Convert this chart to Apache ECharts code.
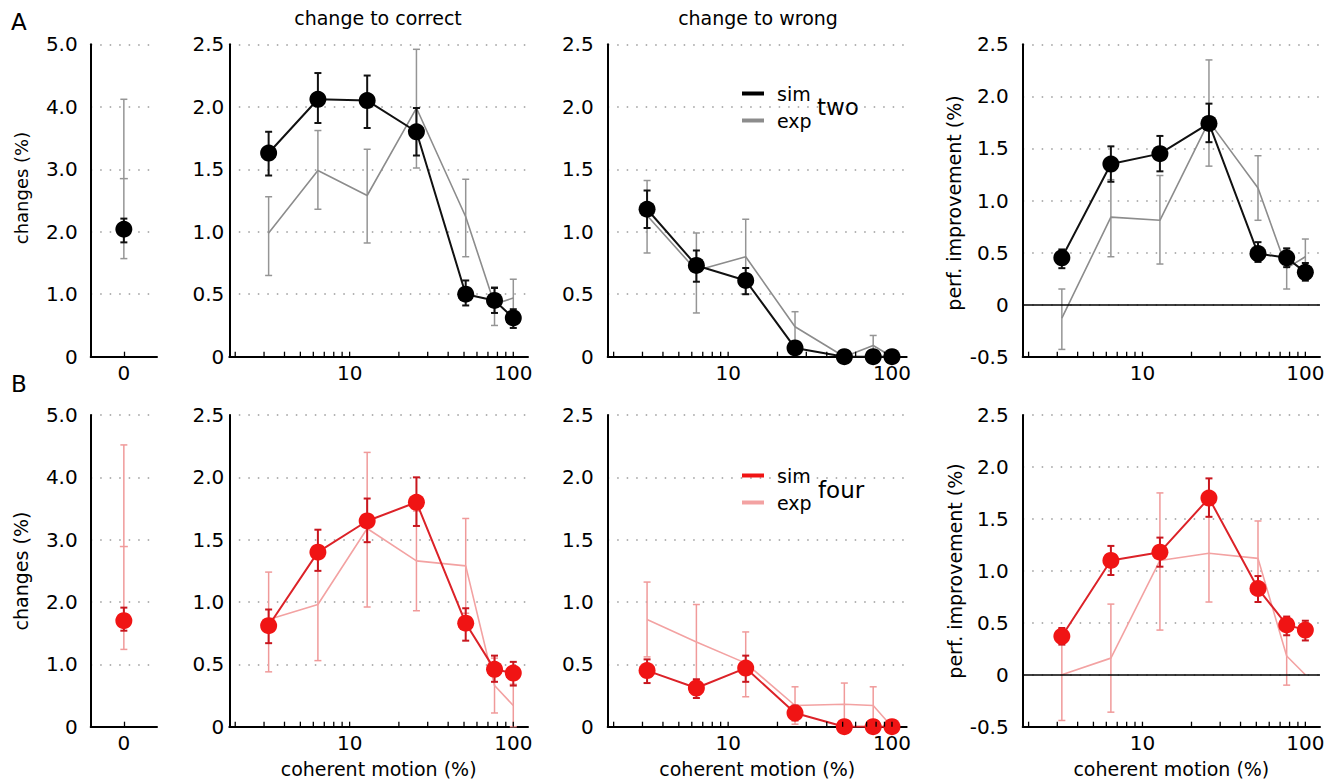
<!DOCTYPE html>
<html><head><meta charset="utf-8">
<script src="https://cdn.jsdelivr.net/npm/echarts@6/dist/echarts.min.js"></script>
<style>html,body{margin:0;padding:0;background:#fff}#c{width:1339px;height:784px}</style>
</head><body><div id="c"></div>
<script>
// ---------- data ----------
const xs = [3.2, 6.4, 12.8, 25.6, 51.2, 76.8, 100];
const baseCat = ['0'];
const logTickVals = [2,3,4,5,6,7,8,9,10,20,30,40,50,60,70,80,90,100];
const baseYTicks = [0, 5];          // min / max of the base panels
const changeYTicks = [0, 2.5];      // min / max of change panels
const perfYTicks = [-0.5, 2.5];     // min / max of perf panels

// Row A (two)
const aBaseSim = [2.04], aBaseSimLo = [1.83], aBaseSimHi = [2.21];
const aBaseExp = [2.85], aBaseExpLo = [1.57], aBaseExpHi = [4.12];
const aCorrSim   = [1.63, 2.06, 2.05, 1.80, 0.50, 0.45, 0.31];
const aCorrSimLo = [1.45, 1.87, 1.83, 1.61, 0.41, 0.35, 0.23];
const aCorrSimHi = [1.80, 2.27, 2.25, 1.99, 0.61, 0.55, 0.38];
const aCorrExp   = [0.99, 1.49, 1.29, 1.99, 1.12, 0.42, 0.47];
const aCorrExpLo = [0.65, 1.18, 0.91, 1.51, 0.80, 0.25, 0.32];
const aCorrExpHi = [1.28, 1.81, 1.66, 2.46, 1.42, 0.56, 0.62];
const aWrongSim   = [1.18, 0.73, 0.61, 0.07, 0, 0, 0];
const aWrongSimLo = [1.03, 0.60, 0.50, 0.05, 0, 0, 0];
const aWrongSimHi = [1.33, 0.85, 0.71, 0.09, 0, 0, 0];
const aWrongExp   = [1.13, 0.69, 0.80, 0.24, 0, 0.09, 0];
const aWrongExpLo = [0.83, 0.35, 0.50, 0.12, 0, 0.00, 0];
const aWrongExpHi = [1.41, 0.99, 1.10, 0.36, 0, 0.17, 0];
const aPerfSim   = [0.45, 1.35, 1.45, 1.74, 0.49, 0.45, 0.31];
const aPerfSimLo = [0.35, 1.18, 1.28, 1.56, 0.41, 0.36, 0.23];
const aPerfSimHi = [0.53, 1.52, 1.62, 1.93, 0.60, 0.54, 0.40];
const aPerfExp   = [-0.13, 0.84, 0.81, 1.76, 1.12, 0.35, 0.46];
const aPerfExpLo = [-0.43, 0.46, 0.39, 1.33, 0.81, 0.15, 0.30];
const aPerfExpHi = [0.15, 1.20, 1.24, 2.35, 1.43, 0.54, 0.63];

// Row B (four)
const bBaseSim = [1.70], bBaseSimLo = [1.54], bBaseSimHi = [1.91];
const bBaseExp = [2.89], bBaseExpLo = [1.24], bBaseExpHi = [4.52];
const bCorrSim   = [0.81, 1.40, 1.65, 1.80, 0.83, 0.46, 0.43];
const bCorrSimLo = [0.67, 1.25, 1.48, 1.61, 0.69, 0.36, 0.33];
const bCorrSimHi = [0.94, 1.58, 1.83, 2.00, 0.95, 0.57, 0.52];
const bCorrExp   = [0.86, 0.98, 1.59, 1.33, 1.29, 0.33, 0.17];
const bCorrExpLo = [0.44, 0.53, 0.96, 0.93, 0.91, 0.11, 0.00];
const bCorrExpHi = [1.24, 1.43, 2.20, 1.73, 1.67, 0.55, 0.34];
const bWrongSim   = [0.45, 0.31, 0.47, 0.11, 0, 0, 0];
const bWrongSimLo = [0.35, 0.23, 0.36, 0.05, 0, 0, 0];
const bWrongSimHi = [0.54, 0.38, 0.57, 0.17, 0, 0, 0];
const bWrongExp   = [0.86, 0.68, 0.51, 0.17, 0.18, 0.17, 0];
const bWrongExpLo = [0.56, 0.38, 0.24, 0.02, 0.00, 0.00, 0];
const bWrongExpHi = [1.16, 0.98, 0.76, 0.32, 0.35, 0.32, 0];
const bPerfSim   = [0.37, 1.10, 1.18, 1.70, 0.83, 0.48, 0.43];
const bPerfSimLo = [0.29, 0.96, 1.04, 1.52, 0.70, 0.38, 0.33];
const bPerfSimHi = [0.45, 1.24, 1.32, 1.89, 0.95, 0.56, 0.52];
const bPerfExp   = [0.00, 0.16, 1.10, 1.17, 1.12, 0.18, 0.00];
const bPerfExpLo = [-0.44, -0.36, 0.43, 0.70, 0.76, -0.10, 0.00];
const bPerfExpHi = [0.44, 0.68, 1.75, 1.64, 1.48, 0.46, 0.00];

// ---------- layout / style ----------
const FONT = 'DejaVu Sans';
const COL = {
  A: {sim:'#000000', simLine:'#111111', simErr:'#111111', exp:'#8c8c8c', expErr:'#959595'},
  B: {sim:'#f01414', simLine:'#dc2228', simErr:'#c8161e', exp:'#f3a2a2', expErr:'#f09a9a'}
};
const rowTop = [44.3, 415];
const rowH = [312.4, 311.7];
const colGeo = [{left:90.7, width:66.3}, {left:229.3, width:298.7}, {left:607.7, width:299}, {left:1022.7, width:297.3}];
const X_MIN = 1.84, X_MAX = 123;
const labelMargin = [13, 5, 14, 14];

const grids = [], xAxes = [], yAxes = [], series = [];
const yFmt = v => (Math.abs(v) < 1e-9 ? '0' : v.toFixed(1));
const logFmt = v => { const l = Math.log10(v); const r = Math.round(l); return (Math.abs(l - r) < 1e-6 && r >= 1) ? String(Math.round(Math.pow(10, r))) : ''; };

function errRender(capW, color, width) {
  return function (params, api) {
    const x = api.value(0), lo = api.value(1), hi = api.value(2);
    const p1 = api.coord([x, lo]), p2 = api.coord([x, hi]);
    const st = {stroke: color, lineWidth: width};
    return {type: 'group', children: [
      {type: 'line', shape: {x1: p1[0], y1: p1[1], x2: p2[0], y2: p2[1]}, style: st},
      {type: 'line', shape: {x1: p1[0] - capW, y1: p1[1], x2: p1[0] + capW, y2: p1[1]}, style: st},
      {type: 'line', shape: {x1: p2[0] - capW, y1: p2[1], x2: p2[0] + capW, y2: p2[1]}, style: st}
    ]};
  };
}
function tickRender(params, api) {
  const p = api.coord([api.value(0), api.value(1)]);
  return {type: 'line', shape: {x1: p[0], y1: p[1], x2: p[0], y2: p[1] - 5}, style: {stroke: '#000', lineWidth: 1.3}};
}

const panels = [
  {row:0, col:0, c:COL.A, yr:baseYTicks, sim:aBaseSim, sLo:aBaseSimLo, sHi:aBaseSimHi, exp:aBaseExp, eLo:aBaseExpLo, eHi:aBaseExpHi, tag:'A'},
  {row:0, col:1, c:COL.A, yr:changeYTicks, sim:aCorrSim, sLo:aCorrSimLo, sHi:aCorrSimHi, exp:aCorrExp, eLo:aCorrExpLo, eHi:aCorrExpHi, tag:'A'},
  {row:0, col:2, c:COL.A, yr:changeYTicks, sim:aWrongSim, sLo:aWrongSimLo, sHi:aWrongSimHi, exp:aWrongExp, eLo:aWrongExpLo, eHi:aWrongExpHi, tag:'A'},
  {row:0, col:3, c:COL.A, yr:perfYTicks, sim:aPerfSim, sLo:aPerfSimLo, sHi:aPerfSimHi, exp:aPerfExp, eLo:aPerfExpLo, eHi:aPerfExpHi, tag:'A'},
  {row:1, col:0, c:COL.B, yr:baseYTicks, sim:bBaseSim, sLo:bBaseSimLo, sHi:bBaseSimHi, exp:bBaseExp, eLo:bBaseExpLo, eHi:bBaseExpHi, tag:'B'},
  {row:1, col:1, c:COL.B, yr:changeYTicks, sim:bCorrSim, sLo:bCorrSimLo, sHi:bCorrSimHi, exp:bCorrExp, eLo:bCorrExpLo, eHi:bCorrExpHi, tag:'B'},
  {row:1, col:2, c:COL.B, yr:changeYTicks, sim:bWrongSim, sLo:bWrongSimLo, sHi:bWrongSimHi, exp:bWrongExp, eLo:bWrongExpLo, eHi:bWrongExpHi, tag:'B'},
  {row:1, col:3, c:COL.B, yr:perfYTicks, sim:bPerfSim, sLo:bPerfSimLo, sHi:bPerfSimHi, exp:bPerfExp, eLo:bPerfExpLo, eHi:bPerfExpHi, tag:'B'}
];

panels.forEach((p, gi) => {
  grids.push({left: colGeo[p.col].left, top: rowTop[p.row], width: colGeo[p.col].width, height: rowH[p.row], containLabel: false});
  const axisLine = {show: true, onZero: false, lineStyle: {color: '#000', width: 2}};
  const lblStyle = {color: '#000', fontSize: 20, fontFamily: FONT};
  if (p.col === 0) {
    xAxes.push({type: 'category', gridIndex: gi, data: baseCat, boundaryGap: true, axisLine,
      axisTick: {show: true, inside: true, alignWithLabel: true, length: 5, lineStyle: {color: '#000', width: 1.3}},
      axisLabel: Object.assign({margin: 6}, lblStyle), splitLine: {show: false}});
  } else {
    const xa = {type: 'log', logBase: 10, gridIndex: gi, min: X_MIN, max: X_MAX, axisLine,
      axisTick: {show: false}, axisLabel: Object.assign({margin: 6, formatter: logFmt, showMinLabel: false, showMaxLabel: false}, lblStyle),
      splitLine: {show: false}, minorTick: {show: false}, minorSplitLine: {show: false}};
    if (p.row === 1) {
      xa.name = 'coherent motion (%)';
      xa.nameLocation = 'middle';
      xa.nameGap = 33;
      xa.nameTextStyle = {color: '#000', fontSize: 19, fontFamily: FONT};
    }
    xAxes.push(xa);
  }
  yAxes.push({type: 'value', gridIndex: gi, min: p.yr[0], max: p.yr[1], interval: p.col === 0 ? 1 : 0.5,
    axisLine, axisTick: {show: false},
    axisLabel: Object.assign({margin: labelMargin[p.col], formatter: yFmt}, lblStyle),
    splitLine: {show: true, lineStyle: {color: '#9a9a9a', width: 1.5, type: [1.5, 8]}}});

  const isBase = p.col === 0;
  const px = isBase ? [0] : xs;
  const ptData = vals => px.map((x, i) => [x, vals[i]]);
  const barData = (lo, hi) => px.map((x, i) => [x, lo[i], hi[i]]).filter(d => d[2] - d[1] > 0.001);
  const nm = p.tag === 'A' ? ['simA', 'expA'] : ['simB', 'expB'];

  // exp error bars
  series.push({type: 'custom', xAxisIndex: gi, yAxisIndex: gi, z: 2, silent: true,
    renderItem: errRender(3.5, p.c.expErr, 1.5), encode: {x: 0, y: [1, 2]}, data: barData(p.eLo, p.eHi)});
  // exp line / mean
  const expS = {type: isBase ? 'scatter' : 'line', name: nm[1], xAxisIndex: gi, yAxisIndex: gi, z: 2, silent: true,
    color: p.c.exp, data: ptData(p.exp)};
  if (isBase) {
    expS.symbol = 'rect'; expS.symbolSize = [8, 1.5]; expS.itemStyle = {color: p.c.expErr, opacity: 1};
  } else {
    expS.symbol = 'none'; expS.itemStyle = {color: p.c.exp}; expS.lineStyle = {color: p.c.exp, width: 1.6};
  }
  if (p.col === 3) {
    expS.markLine = {silent: true, symbol: 'none', label: {show: false}, animation: false,
      lineStyle: {color: '#000', width: 1.5, type: 'solid'}, data: [{yAxis: 0}]};
  }
  series.push(expS);
  // sim error bars
  series.push({type: 'custom', xAxisIndex: gi, yAxisIndex: gi, z: 3, silent: true,
    renderItem: errRender(3.5, p.c.simErr, 2), encode: {x: 0, y: [1, 2]}, data: barData(p.sLo, p.sHi)});
  // sim line + markers
  series.push({type: isBase ? 'scatter' : 'line', name: nm[0], xAxisIndex: gi, yAxisIndex: gi, z: 4, silent: true,
    color: p.c.sim, symbol: 'circle', symbolSize: 17, showSymbol: true,
    itemStyle: {color: p.c.sim, opacity: 1}, lineStyle: {color: p.c.simLine, width: 2}, data: ptData(p.sim)});
  // log-axis ticks
  if (!isBase) {
    series.push({type: 'custom', xAxisIndex: gi, yAxisIndex: gi, z: 5, silent: true, renderItem: tickRender,
      encode: {x: 0, y: 1}, data: logTickVals.map(v => [v, p.yr[0]])});
  }
});

const legendBase = {orient: 'vertical', selectedMode: false, itemWidth: 22, itemHeight: 4, itemGap: 8,
  formatter: n => n.slice(0, 3), textStyle: {color: '#000', fontSize: 19, fontFamily: FONT, padding: [0, 0, 0, 8]}};
const legends = [
  Object.assign({left: 737, top: 79, data: [
    {name: 'simA', icon: 'rect', itemStyle: {color: COL.A.sim}},
    {name: 'expA', icon: 'rect', itemStyle: {color: COL.A.exp}}]}, legendBase),
  Object.assign({left: 737, top: 461, data: [
    {name: 'simB', icon: 'rect', itemStyle: {color: COL.B.sim}},
    {name: 'expB', icon: 'rect', itemStyle: {color: COL.B.exp}}]}, legendBase)
];

const txt = (text, x, y, size, align, rot) => ({type: 'text', x, y, rotation: rot || 0, silent: true,
  style: {text, fill: '#000', font: size + 'px "' + FONT + '"', textAlign: align || 'center', textVerticalAlign: 'middle'}});
const graphic = [
  txt('A', 11, 22, 23, 'left'),
  txt('B', 11, 384, 23, 'left'),
  txt('change to correct', 378, 18, 19),
  txt('change to wrong', 758, 18, 19),
  txt('two', 817, 107, 23, 'left'),
  txt('four', 818, 490, 23, 'left'),
  txt('changes (%)', 21, 188, 18, 'center', Math.PI / 2),
  txt('changes (%)', 21, 571, 19, 'center', Math.PI / 2),
  txt('perf. improvement (%)', 954, 203, 19, 'center', Math.PI / 2),
  txt('perf. improvement (%)', 955, 571, 19, 'center', Math.PI / 2)
];

const chart = echarts.init(document.getElementById('c'), null, {renderer: 'svg', width: 1339, height: 784});
chart.setOption({
  animation: false,
  backgroundColor: '#ffffff',
  textStyle: {fontFamily: FONT},
  grid: grids, xAxis: xAxes, yAxis: yAxes, series, legend: legends, graphic
});
</script></body></html>
